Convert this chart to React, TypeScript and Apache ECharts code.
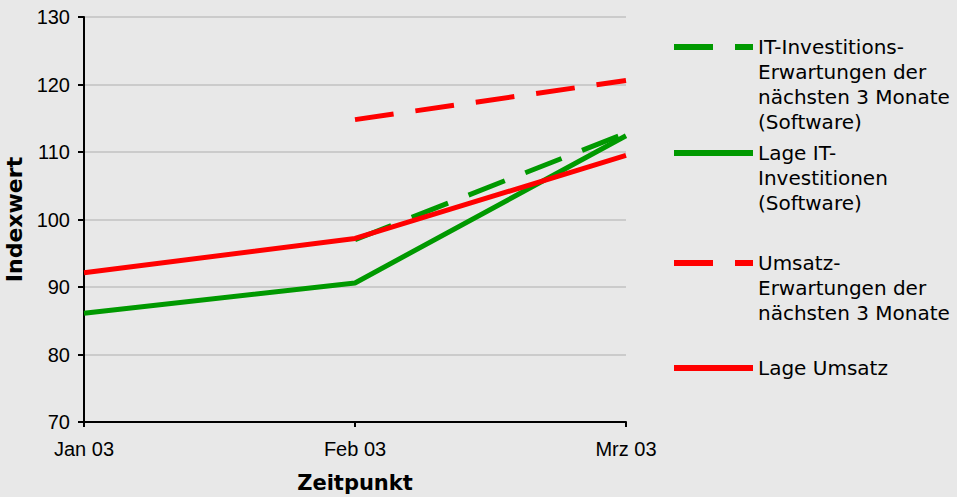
import React, { useEffect, useRef } from 'react';
import * as echarts from 'echarts';

const categories = ['Jan 03', 'Feb 03', 'Mrz 03'];
const seriesNames = [
  'IT-Investitions-Erwartungen der nächsten 3 Monate (Software)',
  'Lage IT-Investitionen (Software)',
  'Umsatz-Erwartungen der nächsten 3 Monate',
  'Lage Umsatz',
];
const legendLabels = [
  'IT-Investitions-\nErwartungen der\nnächsten 3 Monate\n(Software)',
  'Lage IT-\nInvestitionen\n(Software)',
  'Umsatz-\nErwartungen der\nnächsten 3 Monate',
  'Lage Umsatz',
];
const itErwartungen = [null, 97.0, 112.8];
const lageIT = [86.1, 90.6, 112.4];
const umsatzErwartungen = [null, 114.8, 120.6];
const lageUmsatz = [92.1, 97.2, 109.5];
const yMin = 70;
const yMax = 130;
const yStep = 10;

const GREEN = '#009900';
const RED = '#ff0000';
const DASH = [39, 22];

export default function App() {
  const ref = useRef<HTMLDivElement>(null);
  useEffect(() => {
    document.body.style.margin = '0';
    const chart = echarts.init(ref.current!, null, { renderer: 'svg' });
    const lineH = 25;
    const itemH = 14;
    const iconCenters = [47, 153, 263, 368];
    const legends = seriesNames.map((name, i) => {
      const n = legendLabels[i].split('\n').length;
      const top = iconCenters[i] - (2 * n - 1) * (lineH / 2);
      const label = '\n'.repeat(n - 1) + legendLabels[i];
      return {
        data: [name],
        left: 671,
        top,
        orient: 'vertical',
        padding: 0,
        itemWidth: 79,
        itemHeight: itemH,
        selectedMode: false,
        formatter: () => label,
        itemStyle: { opacity: 0 },
        lineStyle: { width: 6 },
        textStyle: {
          fontFamily: 'DejaVu Sans',
          fontSize: 20,
          lineHeight: lineH,
          color: '#000',
        },
      };
    });
    const mk = (i: number, data: (number | null)[], color: string, dashed: boolean) => ({
      name: seriesNames[i],
      type: 'line',
      data,
      symbol: 'none',
      showSymbol: false,
      connectNulls: false,
      lineStyle: { color, width: 5, type: dashed ? DASH : 'solid', cap: 'butt' },
      itemStyle: { color },
      z: 2 + i,
    });
    chart.setOption({
      animation: false,
      backgroundColor: '#e8e8e8',
      grid: { left: 84, right: 331, top: 17, bottom: 75, containLabel: false, outerBoundsMode: 'none' },
      legend: legends,
      xAxis: {
        type: 'category',
        data: categories,
        boundaryGap: false,
        name: 'Zeitpunkt',
        nameLocation: 'middle',
        nameGap: 50,
        nameTextStyle: { fontFamily: 'DejaVu Sans', fontWeight: 'bold', fontSize: 21, color: '#000' },
        axisLine: { lineStyle: { color: '#000', width: 2 } },
        axisTick: { show: true, length: 5, lineStyle: { color: '#000', width: 2 } },
        axisLabel: { fontFamily: 'Liberation Sans', fontSize: 20, color: '#000', margin: 17 },
        splitLine: { show: false },
      },
      yAxis: {
        type: 'value',
        min: yMin,
        max: yMax,
        interval: yStep,
        name: 'Indexwert',
        nameLocation: 'middle',
        nameGap: 49,
        nameRotate: 90,
        nameTextStyle: { fontFamily: 'DejaVu Sans', fontWeight: 'bold', fontSize: 22, color: '#000' },
        axisLine: { show: true, lineStyle: { color: '#000', width: 2 } },
        axisTick: { show: true, length: 6, lineStyle: { color: '#000', width: 2 } },
        axisLabel: { fontFamily: 'Liberation Sans', fontSize: 20, color: '#000', margin: 14 },
        splitLine: { show: true, lineStyle: { color: '#c2c2c2', width: 1.5 } },
      },
      series: [
        mk(0, itErwartungen, GREEN, true),
        mk(1, lageIT, GREEN, false),
        mk(2, umsatzErwartungen, RED, true),
        mk(3, lageUmsatz, RED, false),
      ],
    });
    return () => chart.dispose();
  }, []);
  return <div ref={ref} style={{ width: 957, height: 497 }} />;
}
